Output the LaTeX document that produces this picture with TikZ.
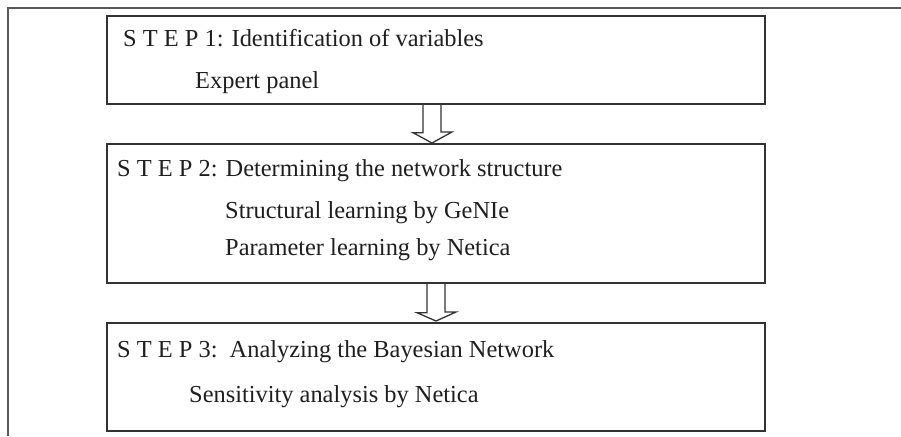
\documentclass[tikz,border=0pt]{standalone}
\usepackage{fontspec}
\setmainfont{Liberation Serif}
\usetikzlibrary{calc}
\begin{document}
\begin{tikzpicture}[x=1pt,y=-1pt,
  stepbox/.style={draw=black!80,line width=1.4pt,rectangle,inner sep=0pt,
    minimum width=658pt,fill=none},
  txt/.style={anchor=base west,inner sep=0pt,text=black!88,
    font=\fontsize{24.4}{29}\selectfont},
  hollow/.style={draw=black!80,line width=1.3pt,line join=miter},
  frameline/.style={draw=black!65,line width=1.4pt}]
\useasboundingbox (0,0) rectangle (901,436);

% outer frame (top and left edges only)
\draw[frameline] (8,436) -- (8,8) -- (901,8);

% the three step boxes
\node[stepbox,minimum height=88pt]  (box1) at (436,60)    {};
\node[stepbox,minimum height=139pt] (box2) at (436,213.5) {};
\node[stepbox,minimum height=108pt] (box3) at (436,377)   {};

% step 1
\node[txt] (s1a) at (123,47)  {S T E P 1: Identification of variables};
\node[txt] (s1b) at (195,88)  {Expert panel};
% step 2
\node[txt] (s2a) at (117,176) {S T E P 2: Determining the network structure};
\node[txt] (s2b) at (225,218) {Structural learning by GeNIe};
\node[txt] (s2c) at (225,255) {Parameter learning by Netica};
% step 3
\node[txt] (s3a) at (117,357) {S T E P 3:\ \ Analyzing the Bayesian Network};
\node[txt] (s3b) at (189,402) {Sensitivity analysis by Netica};

% hollow block arrows between the boxes
\coordinate (t1) at (432,143);
\path (box1.south -| t1) coordinate (r1);
\draw[hollow] ($(r1)+(-9,0)$) -- ++(0,28) -- ++(-10,0) -- (t1)
  -- ++(20,-11) -- ++(-11,0) -- ++(0,-28);

\coordinate (t2) at (436,321);
\path (box2.south -| t2) coordinate (r2);
\draw[hollow] ($(r2)+(-9,0)$) -- ++(0,29) -- ++(-10,0) -- (t2)
  -- ++(20,-9) -- ++(-11,0) -- ++(0,-29);
\end{tikzpicture}
\end{document}
